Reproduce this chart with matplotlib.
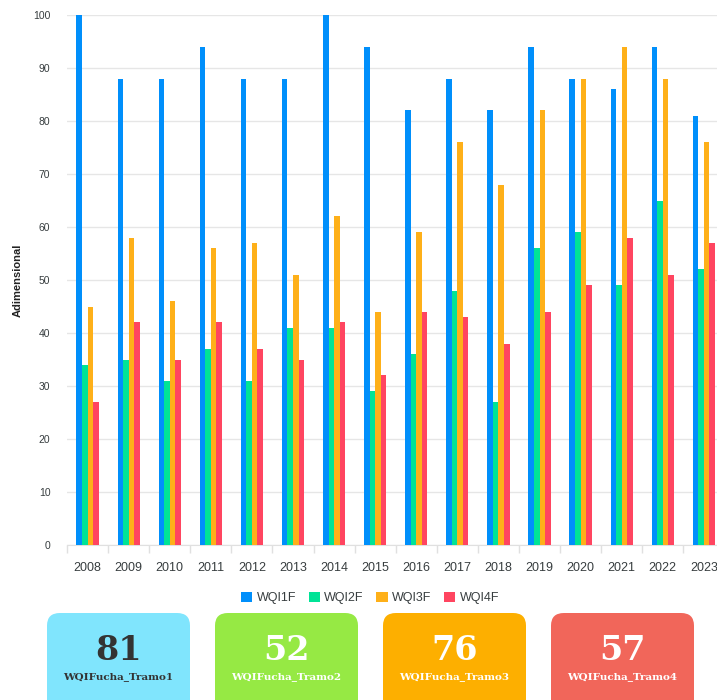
import matplotlib
matplotlib.use('Agg')
import matplotlib.pyplot as plt
from matplotlib.patches import FancyBboxPatch
import numpy as np

plt.rcParams['font.family'] = ['Liberation Sans', 'DejaVu Sans']

# data
years = ['2008', '2009', '2010', '2011', '2012', '2013', '2014', '2015',
         '2016', '2017', '2018', '2019', '2020', '2021', '2022', '2023']
wqi1f = [100, 88, 88, 94, 88, 88, 100, 94, 82, 88, 82, 94, 88, 86, 94, 81]
wqi2f = [34, 35, 31, 37, 31, 41, 41, 29, 36, 48, 27, 56, 59, 49, 65, 52]
wqi3f = [45, 58, 46, 56, 57, 51, 62, 44, 59, 76, 68, 82, 88, 94, 88, 76]
wqi4f = [27, 42, 35, 42, 37, 35, 42, 32, 44, 43, 38, 44, 49, 58, 51, 57]
series_names = ['WQI1F', 'WQI2F', 'WQI3F', 'WQI4F']
colors = ['#008FFB', '#00E396', '#FEB019', '#FF4560']

card_values = [81, 52, 76, 57]
card_labels = ['WQIFucha_Tramo1', 'WQIFucha_Tramo2', 'WQIFucha_Tramo3', 'WQIFucha_Tramo4']
card_colors = ['#80E5FD', '#96E944', '#FDAF00', '#F1665A']
card_text = ['#333333', 'white', 'white', 'white']

W, H = 717, 700
fig = plt.figure(figsize=(W / 100, H / 100), dpi=100)
ax = fig.add_axes([67 / W, (H - 545) / H, 1 - 67 / W, 530 / H])

x = np.arange(len(years))
w = 0.135
for i, vals in enumerate([wqi1f, wqi2f, wqi3f, wqi4f]):
    ax.bar(x + (i - 1.5) * w, vals, width=w, color=colors[i], label=series_names[i], zorder=3)

ax.set_yticks(range(0, 101, 10))
ax.set_xticks(x)
ax.set_xticklabels(years)
ax.set_xticks(np.arange(-0.5, 16, 1), minor=True)
# limits after ticks, otherwise set_xticks widens the view
ax.set_xlim(-0.5, 15.32)
ax.set_ylim(0, 100)
ax.tick_params(axis='x', which='major', length=0, pad=12, labelsize=9, labelcolor='#373d3f')
ax.tick_params(axis='x', which='minor', length=6, color='#e0e0e0', width=1)
ax.tick_params(axis='y', length=0, pad=12, labelsize=7.5, labelcolor='#373d3f')
ax.grid(axis='y', color='#e6e6e6', linewidth=1, zorder=0)
for s in ['top', 'right', 'left']:
    ax.spines[s].set_visible(False)
ax.spines['bottom'].set_color('#e0e0e0')
ax.set_ylabel('Adimensional', fontsize=8, fontweight='bold', color='#222222')
ax.yaxis.set_label_coords(-44 / 650, 0.5)

fig.legend(loc='center', bbox_to_anchor=(370 / W, (H - 598) / H), ncol=4, frameon=False,
           fontsize=9, handlelength=0.9, handleheight=0.9, handletextpad=0.35,
           columnspacing=1.0, labelcolor='#373d3f')

# summary cards
card_x = [47, 215, 383, 551]
for cx, val, lab, cc, tc in zip(card_x, card_values, card_labels, card_colors, card_text):
    box = FancyBboxPatch((cx / W, (H - 720) / H), 143 / W, 107 / H,
                         boxstyle='round,pad=0,rounding_size=0.018',
                         transform=fig.transFigure, facecolor=cc, edgecolor='none')
    fig.patches.append(box)
    fig.text((cx + 71.5) / W, (H - 650) / H, str(val), ha='center', va='center',
             fontsize=24, fontweight='bold', color=tc, family='DejaVu Serif')
    fig.text((cx + 71.5) / W, (H - 677) / H, lab, ha='center', va='center',
             fontsize=7.5, fontweight='bold', color=tc, family='DejaVu Serif')

fig.savefig('out.png', dpi=100)
